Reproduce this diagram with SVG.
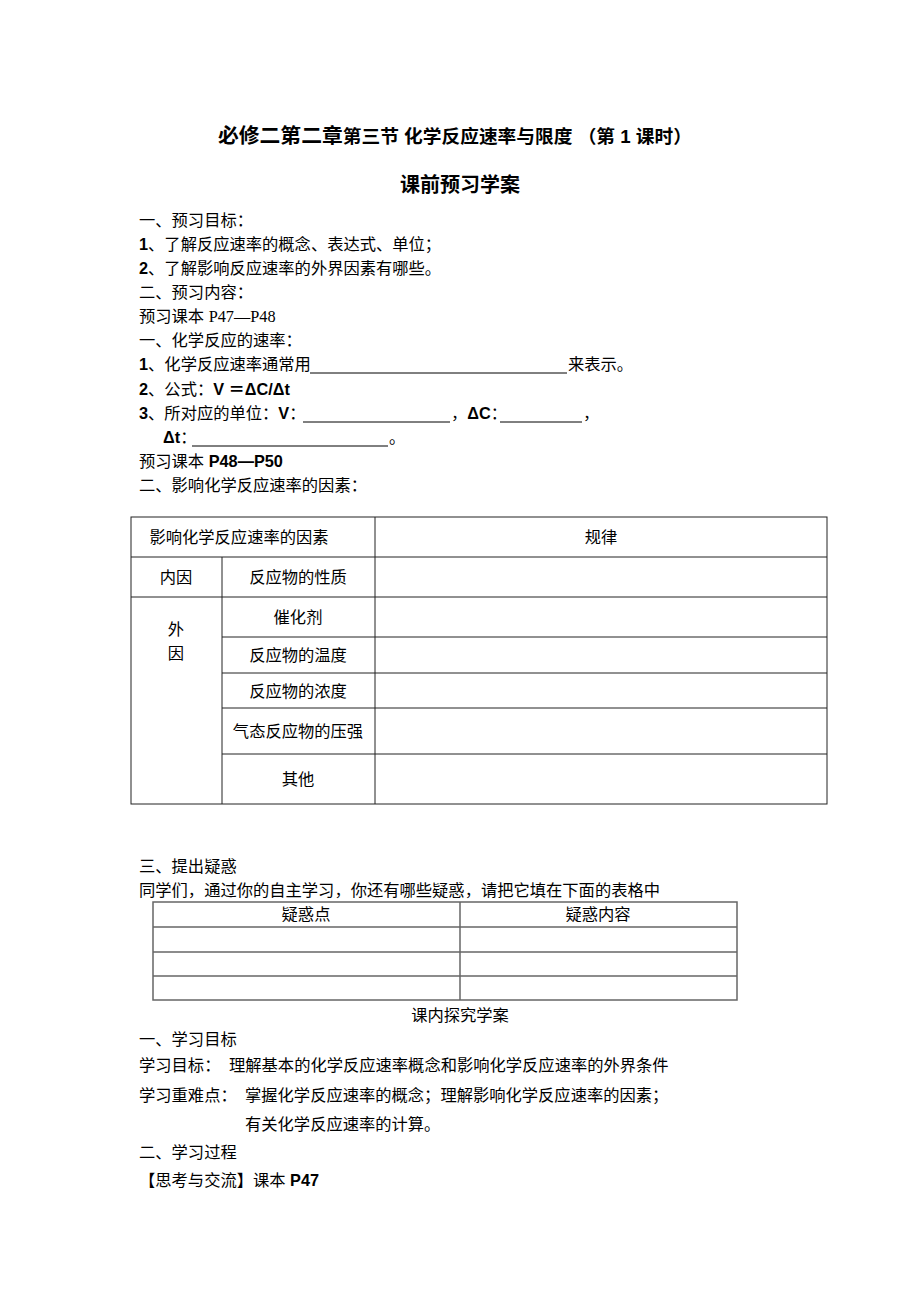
<svg xmlns="http://www.w3.org/2000/svg" width="920" height="1302" viewBox="0 0 920 1302">
<style>
text{font-family:"Liberation Sans","Noto Sans CJK SC",sans-serif;font-size:16.3px;fill:#000}
.b{font-weight:bold}
.c{text-anchor:middle}
.serif{font-family:"Liberation Serif","Noto Sans CJK SC",serif}
.t1{fill:none;stroke:#222;stroke-width:1}
.t2{fill:none;stroke:#666;stroke-width:1.5}
.ul{stroke:#000;stroke-width:1}
</style>
<rect width="920" height="1302" fill="#fff"/>
<g id="title">
<text x="218" y="143" class="b" textLength="474" lengthAdjust="spacingAndGlyphs"><tspan font-size="20">必修二第二章</tspan><tspan font-size="18">第三节 化学反应速率与限度 （第 1 课时）</tspan></text>
<text x="460" y="192" class="b c" style="font-size:20px">课前预习学案</text>
</g>
<g id="preview">
<text x="139" y="226">一、预习目标：</text>
<text x="139" y="250"><tspan class="b">1</tspan>、了解反应速率的概念、表达式、单位；</text>
<text x="139" y="274"><tspan class="b">2</tspan>、了解影响反应速率的外界因素有哪些。</text>
<text x="139" y="298">二、预习内容：</text>
<text x="139" y="322">预习课本 <tspan class="serif">P47—P48</tspan></text>
<text x="139" y="346">一、化学反应的速率：</text>
<text x="139" y="370"><tspan class="b">1</tspan>、化学反应速率通常用</text>
<line class="ul" x1="310" y1="373" x2="567" y2="373"/>
<text x="568" y="370">来表示。</text>
<text x="139" y="395"><tspan class="b">2</tspan>、公式：<tspan class="b">V ＝ΔC/Δt</tspan></text>
<text x="139" y="419"><tspan class="b">3</tspan>、所对应的单位：<tspan class="b">V</tspan>：</text>
<line class="ul" x1="303" y1="422" x2="450" y2="422"/>
<text x="451" y="419">，<tspan class="b">ΔC</tspan>：</text>
<line class="ul" x1="500" y1="422" x2="582" y2="422"/>
<text x="583" y="419">，</text>
<text x="163" y="443" class="b">Δt<tspan font-weight="normal">：</tspan></text>
<line class="ul" x1="192" y1="446" x2="388" y2="446"/>
<text x="389" y="443">。</text>
<text x="139" y="467">预习课本 <tspan class="b">P48—P50</tspan></text>
<text x="139" y="491">二、影响化学反应速率的因素：</text>
</g>
<g id="table1">
<rect class="t1" x="131" y="517" width="696" height="287"/>
<line class="t1" x1="131" y1="557" x2="827" y2="557"/>
<line class="t1" x1="131" y1="597" x2="827" y2="597"/>
<line class="t1" x1="222" y1="637" x2="827" y2="637"/>
<line class="t1" x1="222" y1="673" x2="827" y2="673"/>
<line class="t1" x1="222" y1="708" x2="827" y2="708"/>
<line class="t1" x1="222" y1="754" x2="827" y2="754"/>
<line class="t1" x1="222" y1="557" x2="222" y2="804"/>
<line class="t1" x1="375" y1="517" x2="375" y2="804"/>
<text x="239" y="543" class="c">影响化学反应速率的因素</text>
<text x="601" y="543" class="c">规律</text>
<text x="176" y="583" class="c">内因</text>
<text x="298" y="583" class="c">反应物的性质</text>
<text x="176" y="635" class="c">外</text>
<text x="176" y="659" class="c">因</text>
<text x="298" y="623" class="c">催化剂</text>
<text x="298" y="661" class="c">反应物的温度</text>
<text x="298" y="697" class="c">反应物的浓度</text>
<text x="298" y="737" class="c">气态反应物的压强</text>
<text x="298" y="785" class="c">其他</text>
</g>
<g id="doubts">
<text x="139" y="872">三、提出疑惑</text>
<text x="139" y="896">同学们，通过你的自主学习，你还有哪些疑惑，请把它填在下面的表格中</text>
</g>
<g id="table2">
<rect class="t2" x="153" y="902" width="584" height="98"/>
<line class="t2" x1="153" y1="927" x2="737" y2="927"/>
<line class="t2" x1="153" y1="952" x2="737" y2="952"/>
<line class="t2" x1="153" y1="976" x2="737" y2="976"/>
<line class="t2" x1="460" y1="902" x2="460" y2="1000"/>
<text x="306" y="920" class="c">疑惑点</text>
<text x="598" y="920" class="c">疑惑内容</text>
</g>
<g id="inclass">
<text x="460" y="1021" class="c">课内探究学案</text>
<text x="139" y="1045">一、学习目标</text>
<text x="139" y="1071">学习目标：</text>
<text x="229" y="1071">理解基本的化学反应速率概念和影响化学反应速率的外界条件</text>
<text x="139" y="1101">学习重难点：</text>
<text x="245" y="1101">掌握化学反应速率的概念；理解影响化学反应速率的因素；</text>
<text x="245" y="1130">有关化学反应速率的计算。</text>
<text x="139" y="1158">二、学习过程</text>
<text x="139" y="1186">【思考与交流】课本 <tspan class="b">P47</tspan></text>
</g>
</svg>
